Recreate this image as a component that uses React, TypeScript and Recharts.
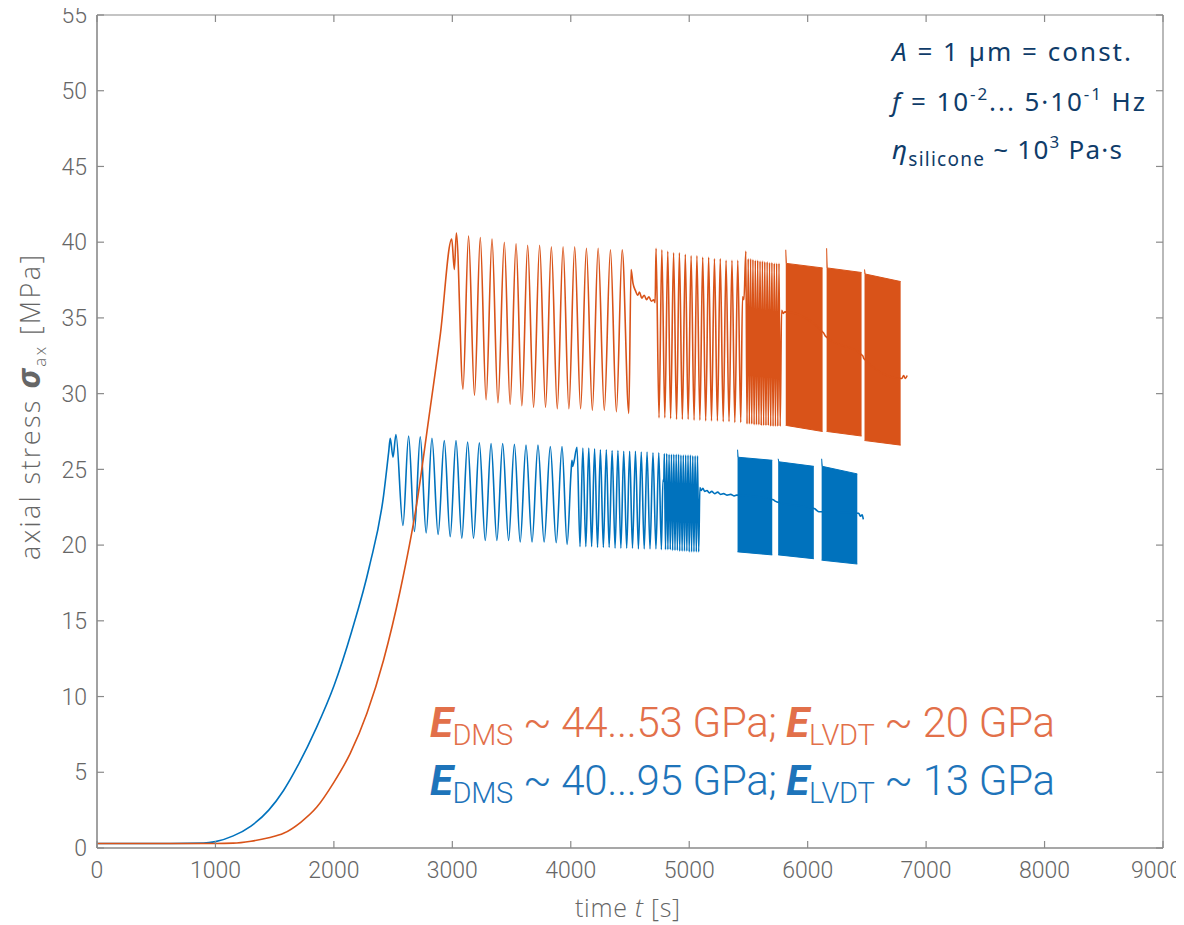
import React from 'react';
import { ComposedChart, Line, Area, XAxis, YAxis } from 'recharts';

const xTicks = [0, 1000, 2000, 3000, 4000, 5000, 6000, 7000, 8000, 9000];
const yTicks = [0, 5, 10, 15, 20, 25, 30, 35, 40, 45, 50, 55];

const BLUE = '#0072BD';
const ORANGE = '#D95319';

// ---- blue specimen: [time s, stress MPa]
const blueRamp: [number, number][] = [
  [0, 0.3], [500, 0.3], [900, 0.32], [1000, 0.42], [1150, 0.8], [1300, 1.45], [1450, 2.5], [1575, 3.8],
  [1700, 5.5], [1850, 7.9], [2000, 10.7], [2150, 14.3], [2300, 18.6], [2420, 23.3], [2462, 26.1],
];
const blueCycles100s: [number, number][] = [
  [2476, 27.05], [2499, 25.8], [2524, 27.3], [2583, 21.3], [2631, 27.2], [2680, 20.9], [2729, 27.15], [2779, 20.8],
  [2828, 27.05], [2880, 20.7], [2932, 26.9], [2982, 20.55], [3031, 26.9], [3080, 20.45], [3129, 26.8], [3179, 20.45],
  [3228, 26.75], [3278, 20.3], [3327, 26.7], [3376, 20.3], [3425, 26.7], [3475, 20.3], [3524, 26.65], [3573, 20.2],
  [3622, 26.6], [3673, 20.2], [3723, 26.6], [3775, 20.2], [3827, 26.5], [3877, 20.15], [3926, 26.5], [3969, 20.05],
];
const blueHump: [number, number][] = [[4003, 24.9], [4010, 25.6], [4016, 25.2], [4024, 25.4]];
const blueCycles50s: [number, number][] = [
  [4053, 26.45], [4078, 19.9], [4102, 26.4], [4127, 19.9], [4152, 26.4], [4176, 19.9], [4201, 26.35], [4226, 19.85],
  [4250, 26.3], [4275, 19.85], [4300, 26.3], [4324, 19.85], [4349, 26.25], [4374, 19.8], [4398, 26.25], [4423, 19.8],
  [4447, 26.2], [4472, 19.8], [4497, 26.2], [4521, 19.8], [4546, 26.2], [4571, 19.75], [4595, 26.15], [4620, 19.75],
  [4644, 26.15], [4669, 19.75], [4694, 26.1], [4719, 19.75], [4743, 26.1], [4765, 19.7], [4778, 24.3], [4785, 24.2],
];
const blueCycles20s: [number, number][] = [
  [4790, 26.05], [4800, 19.7], [4810, 26.05], [4820, 19.7], [4830, 26.0], [4840, 19.7], [4850, 26.0], [4860, 19.65],
  [4870, 26.0], [4880, 19.65], [4890, 26.0], [4900, 19.65], [4910, 26.0], [4920, 19.6], [4930, 25.95], [4940, 19.6],
  [4950, 25.95], [4960, 19.6], [4970, 25.95], [4980, 19.6], [4990, 25.95], [5000, 19.55], [5010, 25.95], [5020, 19.55],
  [5030, 25.9], [5040, 19.55], [5050, 25.9], [5060, 19.55], [5070, 25.9], [5080, 19.55],
];
const blueRelax: [number, number][] = [
  [5090, 23.8], [5100, 23.6], [5115, 23.75], [5130, 23.55], [5150, 23.6], [5170, 23.45], [5190, 23.55], [5215, 23.4],
  [5240, 23.5], [5265, 23.35], [5290, 23.4], [5320, 23.3], [5350, 23.35], [5380, 23.25], [5400, 23.3],
  [5710, 23.0], [5725, 22.9], [5742, 22.85],
  [6060, 22.4], [6075, 22.3], [6095, 22.2], [6110, 22.2],
  [6430, 22.1], [6447, 21.9], [6460, 22.0], [6470, 21.7],
];
// dense high-frequency blocks: [time, min, max]
const blueBlock1: [number, number, number][] = [[5408, 19.55, 26.3], [5413, 19.55, 25.8], [5701, 19.35, 25.6]];
const blueBlock2: [number, number, number][] = [[5751, 19.35, 25.7], [5756, 19.35, 25.5], [6052, 19.1, 25.2]];
const blueBlock3: [number, number, number][] = [[6118, 19.0, 25.7], [6123, 19.0, 25.2], [6419, 18.75, 24.7]];

// ---- orange specimen
const orangeRamp: [number, number][] = [
  [0, 0.3], [1000, 0.3], [1150, 0.32], [1300, 0.45], [1450, 0.68], [1575, 0.97], [1720, 1.7], [1856, 2.7],
  [1997, 4.3], [2138, 6.25], [2279, 8.9], [2419, 12.4], [2560, 17.0], [2701, 22.8], [2800, 28.3], [2900, 34.0], [2995, 40.2],
];
const orangeCycles100s: [number, number][] = [
  [3017, 38.2], [3034, 40.6], [3090, 30.3], [3137, 40.4], [3187, 29.9], [3236, 40.3], [3285, 29.6], [3335, 40.2],
  [3385, 29.4], [3439, 40.0], [3488, 29.3], [3538, 39.9], [3587, 29.2], [3636, 39.8], [3686, 29.1], [3737, 39.8],
  [3787, 29.1], [3836, 39.7], [3886, 29.0], [3935, 39.7], [3984, 29.0], [4033, 39.7], [4083, 29.0], [4132, 39.6],
  [4182, 28.9], [4231, 39.6], [4283, 28.9], [4335, 39.5], [4385, 28.8], [4434, 39.5], [4490, 28.7],
];
const orangeRelax1: [number, number][] = [
  [4509, 38.2], [4525, 37.3], [4546, 36.8], [4565, 36.5], [4580, 36.7], [4600, 36.3], [4620, 36.5], [4640, 36.2],
  [4660, 36.4], [4680, 36.1], [4700, 36.2], [4712, 36.0],
];
const orangeCycles50s: [number, number][] = [
  [4720, 39.6], [4745, 28.4], [4769, 39.5], [4794, 28.4], [4819, 39.4], [4843, 28.35], [4868, 39.3], [4893, 28.3],
  [4917, 39.3], [4942, 28.3], [4967, 39.2], [4991, 28.3], [5016, 39.1], [5041, 28.25], [5065, 39.1], [5090, 28.25],
  [5114, 39.0], [5139, 28.2], [5164, 39.0], [5188, 28.2], [5213, 38.9], [5238, 28.2], [5262, 38.9], [5287, 28.15],
  [5311, 38.8], [5336, 28.15], [5361, 38.8], [5385, 28.1], [5410, 38.8], [5435, 28.1],
  [5450, 36.4], [5462, 36.2], [5478, 39.4],
];
const orangeCycles20s: [number, number][] = [
  [5488, 28.0], [5498, 38.9], [5508, 28.0], [5518, 38.9], [5528, 28.0], [5538, 38.85], [5548, 27.95], [5558, 38.8],
  [5568, 27.95], [5578, 38.8], [5588, 27.95], [5598, 38.75], [5608, 27.9], [5618, 38.75], [5628, 27.9], [5638, 38.7],
  [5648, 27.9], [5658, 38.7], [5668, 27.9], [5678, 38.65], [5688, 27.85], [5698, 38.65], [5708, 27.85], [5718, 38.6],
  [5728, 27.85], [5738, 38.6], [5748, 27.85], [5758, 38.6], [5768, 27.85],
];
const orangeRelax2: [number, number][] = [
  [5780, 35.5], [5795, 35.3], [5808, 35.4],
  [6135, 34.0], [6150, 33.8],
  [6465, 32.5], [6475, 32.3],
  [6795, 31.0], [6810, 31.2], [6825, 31.0], [6840, 31.2],
];
const orangeBlock1: [number, number, number][] = [[5815, 27.9, 39.5], [5820, 27.9, 38.6], [6126, 27.5, 38.3]];
const orangeBlock2: [number, number, number][] = [[6160, 27.5, 39.6], [6165, 27.5, 38.3], [6455, 27.2, 38.0]];
const orangeBlock3: [number, number, number][] = [[6480, 26.9, 38.2], [6485, 26.9, 37.9], [6785, 26.6, 37.4]];

// frame helper: spans the axis domains so the top/right axes are bound to a series
const frameX = [0, 9000];
const frameY = [0, 55];

const toPts = (arr: [number, number][]) => arr.map(([t, v]) => ({ t, v }));
const toRange = (arr: [number, number, number][]) => arr.map(([t, lo, hi]) => ({ t, r: [lo, hi] }));

const blueLine = toPts([...blueRamp, ...blueCycles100s, ...blueHump, ...blueCycles50s, ...blueCycles20s, ...blueRelax]);
const orangeLine = toPts([...orangeRamp, ...orangeCycles100s, ...orangeRelax1, ...orangeCycles50s, ...orangeCycles20s, ...orangeRelax2]);
const blueBlocks = [blueBlock1, blueBlock2, blueBlock3].map(toRange);
const orangeBlocks = [orangeBlock1, orangeBlock2, orangeBlock3].map(toRange);
const frameData = frameX.map((t, i) => ({ t, v: frameY[i] }));

const AXIS = '#8a8a8a';
const TICKTXT = '#666666';
const FONT = 'Roboto, "Noto Sans", sans-serif';
const TITLEFONT = '"Open Sans", "Noto Sans", sans-serif';
const W = 1184;
const H = 925;
const emptyTick = () => <g />;

const XTick = (props: any) => {
  const { x, y, payload, index } = props;
  const v = Number(payload?.value);
  const last = index === xTicks.length - 1 || v >= xTicks[xTicks.length - 1];
  return (
    <text x={Number(x) + (last ? 19 : 0)} y={y} dy="0.71em" textAnchor={last ? 'end' : 'middle'}
      fill={TICKTXT} fontSize={23} fontFamily={FONT} fontWeight={300}>
      {String(payload?.value)}
    </text>
  );
};

export default function App() {
  return (
    <div style={{ position: 'relative', width: W, height: H, marginLeft: -8, marginTop: -8, fontFamily: FONT }}>
      <ComposedChart width={W} height={H} margin={{ top: 14, right: 20, bottom: 47, left: 37 }}>
        <XAxis
          type="number" dataKey="t" domain={[0, 9000]} ticks={xTicks} interval={0} allowDataOverflow
          height={30} tickSize={-7} tickMargin={21} tick={<XTick />}
          tickLine={{ stroke: AXIS, strokeWidth: 1.2 }} axisLine={{ stroke: AXIS, strokeWidth: 1.6 }}
        />
        <XAxis
          xAxisId="top" orientation="top" type="number" dataKey="t" domain={[0, 9000]} ticks={xTicks} interval={0} allowDataOverflow
          height={1} tickSize={-7} tickMargin={0} tick={emptyTick}
          tickLine={{ stroke: AXIS, strokeWidth: 1.2 }} axisLine={{ stroke: AXIS, strokeWidth: 1.2 }}
        />
        <YAxis
          type="number" domain={[0, 55]} ticks={yTicks} interval={0} allowDataOverflow
          width={60} tickSize={-7} tickMargin={17}
          tick={{ fill: TICKTXT, fontSize: 23, fontFamily: FONT, fontWeight: 300 }}
          tickLine={{ stroke: AXIS, strokeWidth: 1.2 }} axisLine={{ stroke: AXIS, strokeWidth: 1.6 }}
        />
        <YAxis
          yAxisId="right" orientation="right" type="number" domain={[0, 55]} ticks={yTicks} interval={0} allowDataOverflow
          width={1} tickSize={-7} tickMargin={0} tick={emptyTick}
          tickLine={{ stroke: AXIS, strokeWidth: 1.2 }} axisLine={{ stroke: AXIS, strokeWidth: 1.2 }}
        />
        <Line data={frameData} dataKey="v" xAxisId="top" yAxisId="right" stroke="none" strokeWidth={0}
          dot={false} activeDot={false} isAnimationActive={false} />
        {blueBlocks.map((d, i) => (
          <Area key={'bb' + i} data={d} dataKey="r" type="linear" stroke={BLUE} strokeWidth={1}
            fill={BLUE} fillOpacity={1} isAnimationActive={false} dot={false} activeDot={false} />
        ))}
        <Line data={blueLine} dataKey="v" type="monotone" stroke={BLUE} strokeWidth={1.6}
          dot={false} activeDot={false} isAnimationActive={false} />
        {orangeBlocks.map((d, i) => (
          <Area key={'ob' + i} data={d} dataKey="r" type="linear" stroke={ORANGE} strokeWidth={1}
            fill={ORANGE} fillOpacity={1} isAnimationActive={false} dot={false} activeDot={false} />
        ))}
        <Line data={orangeLine} dataKey="v" type="monotone" stroke={ORANGE} strokeWidth={1.6}
          dot={false} activeDot={false} isAnimationActive={false} />
      </ComposedChart>
      <svg width={W} height={H} style={{ position: 'absolute', left: 0, top: 0, pointerEvents: 'none' }}>
        {/* parameters, top right */}
        <g fontFamily='"Noto Sans", sans-serif' fontSize={26} fill="#0f3c69">
          <text x={892} y={61} textLength={239} lengthAdjust="spacing">
            <tspan fontStyle="italic">A</tspan>{' = 1 µm = const.'}
          </text>
          <text x={892} y={111} textLength={253} lengthAdjust="spacing">
            <tspan fontStyle="italic">f</tspan>{' = 10'}
            <tspan fontSize={17} dy={-11}>-2</tspan>
            <tspan dy={11}>{'... 5·10'}</tspan>
            <tspan fontSize={17} dy={-11}>-1</tspan>
            <tspan dy={11}>{' Hz'}</tspan>
          </text>
          <text x={892} y={159} textLength={230} lengthAdjust="spacing">
            <tspan fontStyle="italic">η</tspan>
            <tspan fontSize={19} dy={7}>silicone</tspan>
            <tspan dy={-7}>{' ~ 10'}</tspan>
            <tspan fontSize={17} dy={-11}>3</tspan>
            <tspan dy={11}>{' Pa·s'}</tspan>
          </text>
        </g>
        {/* moduli */}
        <text x={430} y={737} fontFamily={FONT} fontSize={42} fontWeight={300} fill="#E2704A" textLength={625} lengthAdjust="spacing">
          <tspan fontWeight={700} fontStyle="italic">E</tspan>
          <tspan fontSize={29} dy={8}>DMS</tspan>
          <tspan dy={-8}>{' ~ 44...53 GPa; '}</tspan>
          <tspan fontWeight={700} fontStyle="italic">E</tspan>
          <tspan fontSize={29} dy={8}>LVDT</tspan>
          <tspan dy={-8}>{' ~ 20 GPa'}</tspan>
        </text>
        <text x={430} y={795} fontFamily={FONT} fontSize={42} fontWeight={300} fill="#1E74BA" textLength={625} lengthAdjust="spacing">
          <tspan fontWeight={700} fontStyle="italic">E</tspan>
          <tspan fontSize={29} dy={8}>DMS</tspan>
          <tspan dy={-8}>{' ~ 40...95 GPa; '}</tspan>
          <tspan fontWeight={700} fontStyle="italic">E</tspan>
          <tspan fontSize={29} dy={8}>LVDT</tspan>
          <tspan dy={-8}>{' ~ 13 GPa'}</tspan>
        </text>
        {/* axis titles */}
        <text x={575} y={917} fontFamily={TITLEFONT} fontSize={25} fontWeight={300} fill={TICKTXT} textLength={105} lengthAdjust="spacing">
          {'time '}<tspan fontStyle="italic">t</tspan>{' [s]'}
        </text>
        <text transform="translate(40,560) rotate(-90)" fontFamily={TITLEFONT} fontSize={27} fontWeight={300} fill={TICKTXT} textLength={305} lengthAdjust="spacing">
          {'axial stress '}
          <tspan fontWeight={700} fontStyle="italic" fontSize={32}>σ</tspan>
          <tspan fontSize={17} dy={6}>ax</tspan>
          <tspan dy={-6}>{' [MPa]'}</tspan>
        </text>
      </svg>
    </div>
  );
}
